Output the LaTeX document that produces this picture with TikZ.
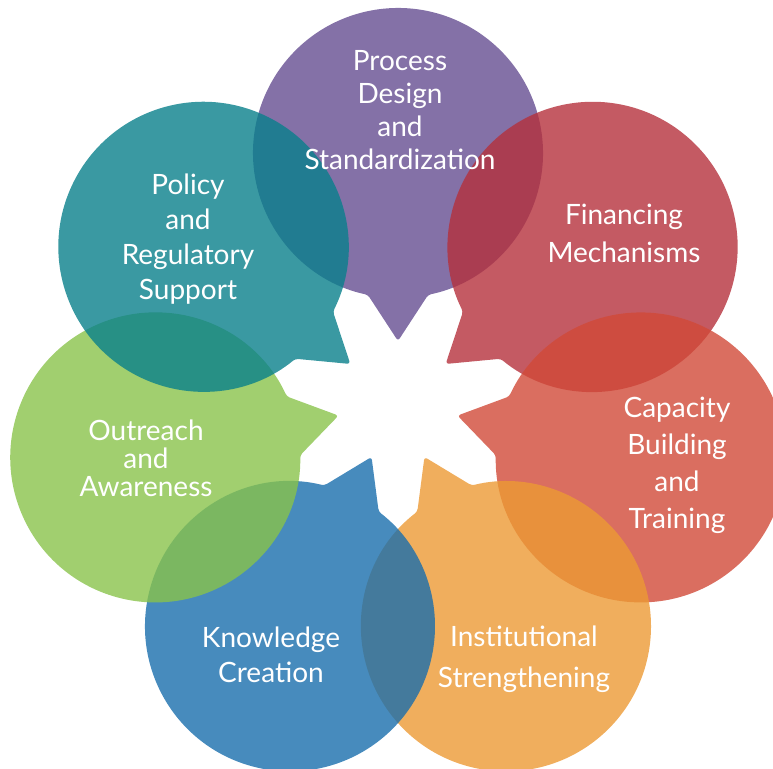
\documentclass[tikz,border=0pt]{standalone}
\usepackage{fontspec}
\setmainfont{Lato}
\definecolor{processpurple}{RGB}{101,77,145}
\definecolor{financered}{RGB}{181,49,60}
\definecolor{capacityred}{RGB}{209,74,56}
\definecolor{instorange}{RGB}{236,154,52}
\definecolor{knowblue}{RGB}{25,110,173}
\definecolor{outgreen}{RGB}{137,195,75}
\definecolor{policyteal}{RGB}{9,128,139}
\tikzset{
  bubble/.style={fill=#1, fill opacity=0.8, rounded corners=3},
  bubbletext/.style={text=white, align=center, font=\fontsize{28}{#1}\selectfont},
  bubbletext/.default=34
}

\begin{document}
\begin{tikzpicture}[x=1pt,y=1pt]
  \useasboundingbox (-398,-366) rectangle (375,402);
  % seven speech bubbles, tails pointing to the centre
  \foreach \ang/\col in {90/processpurple, 38.57/financered, -12.86/capacityred,
      -64.29/instorange, -115.71/knowblue, -167.14/outgreen, 141.43/policyteal}
    \fill[bubble=\col, shift={(\ang:249)}, rotate=\ang+180]
      (12:145) arc[start angle=12, end angle=348, radius=145] -- (188,0) -- cycle;
  % labels
  \node[bubbletext=33] (process) at (2,292) {Process\\Design\\and\\Standardization};
  \node[bubbletext=38] (finance) at (226,169) {Financing\\Mechanisms};
  \node[bubbletext=37] (capacity) at (279,-63) {Capacity\\Building\\and\\Training};
  \node[bubbletext=41] (inst) at (126,-257) {Institutional\\Strengthening};
  \node[bubbletext=35] (know) at (-127,-253) {Knowledge\\Creation};
  \node[bubbletext=28] (outreach) at (-252,-56) {Outreach\\and\\Awareness};
  \node[bubbletext=35] (policy) at (-210,163) {Policy\\and\\Regulatory\\Support};
\end{tikzpicture}
\end{document}
